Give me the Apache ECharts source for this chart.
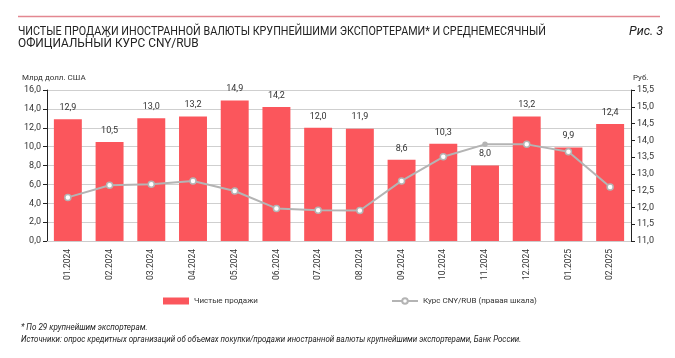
<!DOCTYPE html>
<html><head><meta charset="utf-8">
<script src="https://cdn.jsdelivr.net/npm/echarts@6/dist/echarts.min.js"></script>
<style>html,body{margin:0;padding:0;background:#fff}#c{width:675px;height:358px}</style>
</head><body><div id="c"></div>
<script>
var categories = ['01.2024','02.2024','03.2024','04.2024','05.2024','06.2024','07.2024','08.2024','09.2024','10.2024','11.2024','12.2024','01.2025','02.2025'];
var netSales = [12.9,10.5,13.0,13.2,14.9,14.2,12.0,11.9,8.6,10.3,8.0,13.2,9.9,12.4];
var cnyRub = [12.30,12.66,12.69,12.79,12.49,11.97,11.92,11.91,12.79,13.51,13.88,13.88,13.66,12.61];
var leftTicks = {min:0,max:16,interval:2};
var rightTicks = {min:11,max:15.5,interval:0.5};

var F = 'Roboto, "Liberation Sans", sans-serif';
var fmt = function(v){return v.toFixed(1).replace('.',',');};
var lineData = cnyRub.map(function(v,i){
  return i===10 ? {value:v,symbolSize:4,itemStyle:{color:'#b4b4b4'}} : v;
});
var chart = echarts.init(document.getElementById('c'));
chart.setOption({
  animation:false,
  grid:{left:47,right:44,top:90,bottom:117,containLabel:false},
  legend:[
    {data:[{name:'Чистые продажи'}],left:158,top:292,itemWidth:26,itemHeight:7,icon:'rect',itemGap:4,
     textStyle:{fontFamily:F,fontSize:8,color:'#333'}},
    {data:[{name:'Курс CNY/RUB (правая шкала)'}],left:386,top:292,itemWidth:26,itemHeight:7,
     textStyle:{fontFamily:F,fontSize:8,color:'#333'}}
  ],
  xAxis:{type:'category',data:categories,
    axisLine:{lineStyle:{color:'#ccc'}},axisTick:{show:false},
    axisLabel:{rotate:90,fontFamily:F,fontSize:8.5,color:'#333',margin:8}},
  yAxis:[
    {type:'value',min:leftTicks.min,max:leftTicks.max,interval:leftTicks.interval,
     axisLine:{show:true,lineStyle:{color:'#222'}},axisTick:{show:true,length:4,lineStyle:{color:'#222'}},
     splitLine:{lineStyle:{color:'#cfcfcf'}},
     axisLabel:{formatter:fmt,fontFamily:F,fontSize:9,color:'#333',margin:6},
     name:'Млрд долл. США',nameLocation:'end',nameGap:8,
     nameTextStyle:{fontFamily:F,fontSize:8,color:'#333',align:'left',padding:[0,0,0,-25]}},
    {type:'value',min:rightTicks.min,max:rightTicks.max,interval:rightTicks.interval,position:'right',
     axisLine:{show:true,lineStyle:{color:'#222'}},axisTick:{show:true,length:4,lineStyle:{color:'#222'}},
     splitLine:{show:false},
     axisLabel:{formatter:fmt,fontFamily:F,fontSize:9,color:'#333',margin:6},
     name:'Руб.',nameLocation:'end',nameGap:8,
     nameTextStyle:{fontFamily:F,fontSize:8,color:'#333',align:'left',padding:[0,0,0,2]}}
  ],
  series:[
    {name:'Чистые продажи',type:'bar',data:netSales,barCategoryGap:'33%',
     itemStyle:{color:'#fb565c'},
     label:{show:true,position:'top',distance:7,formatter:function(p){return fmt(p.value);},fontFamily:F,fontSize:9,color:'#333'}},
    {name:'Курс CNY/RUB (правая шкала)',type:'line',yAxisIndex:1,data:lineData,
     symbol:'circle',symbolSize:6,lineStyle:{color:'#b4b4b4',width:2},
     itemStyle:{color:'#fff',borderColor:'#b4b4b4',borderWidth:1.5}}
  ],
  graphic:[
    {type:'line',shape:{x1:18,y1:16.5,x2:660,y2:16.5},style:{stroke:'#e38791',lineWidth:1.5}},
    {type:'text',x:18,y:25,scaleX:0.86,style:{text:'ЧИСТЫЕ ПРОДАЖИ ИНОСТРАННОЙ ВАЛЮТЫ КРУПНЕЙШИМИ ЭКСПОРТЕРАМИ* И СРЕДНЕМЕСЯЧНЫЙ',font:'12.5px Roboto, sans-serif',fill:'#222'}},
    {type:'text',x:18,y:37.5,scaleX:0.95,style:{text:'ОФИЦИАЛЬНЫЙ КУРС CNY/RUB',font:'12.5px Roboto, sans-serif',fill:'#222'}},
    {type:'text',x:629,y:25,style:{text:'Рис. 3',font:'italic 12.5px Roboto, sans-serif',fill:'#222'}},
    {type:'text',x:21,y:323,scaleX:0.95,style:{text:'* По 29 крупнейшим экспортерам.',font:'italic 8.5px Roboto, sans-serif',fill:'#222'}},
    {type:'text',x:21,y:335,scaleX:0.93,style:{text:'Источники: опрос кредитных организаций об объемах покупки/продажи иностранной валюты крупнейшими экспортерами, Банк России.',font:'italic 8.5px Roboto, sans-serif',fill:'#222'}}
  ]
});
</script></body></html>
